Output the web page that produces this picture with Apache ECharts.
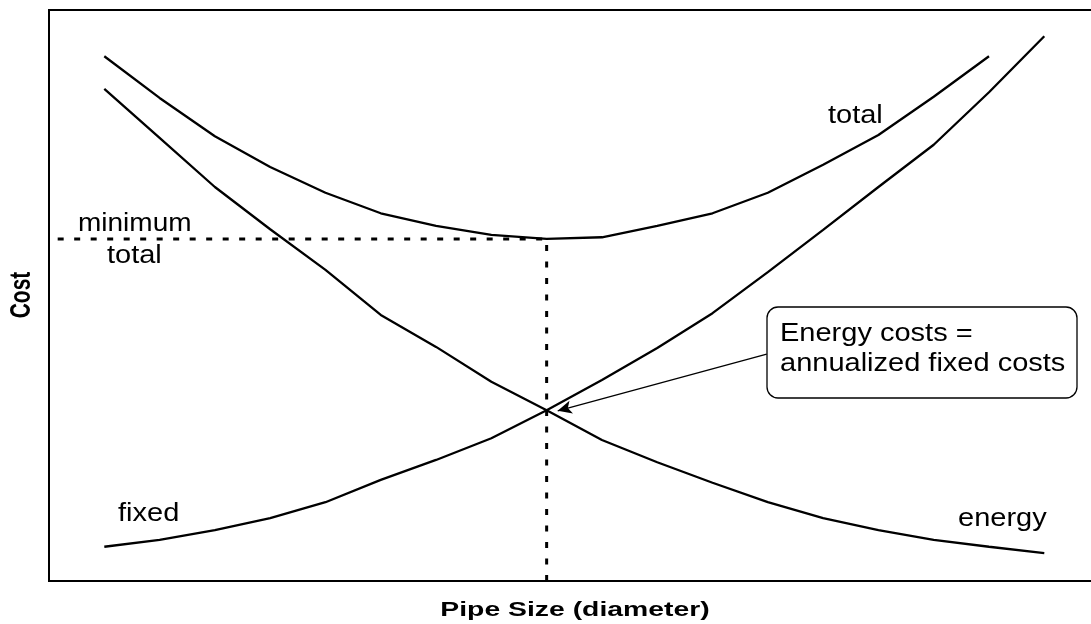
<!DOCTYPE html>
<html>
<head>
<meta charset="utf-8">
<script src="https://cdn.jsdelivr.net/npm/echarts@6/dist/echarts.min.js"></script>
<style>
  html, body { margin: 0; padding: 0; background: #fff; overflow: hidden; }
  /* wider than the window: the plot box's right edge falls outside the picture */
  #chart { width: 1130px; height: 624px; }
</style>
</head>
<body>
<div id="chart"></div>
<script>
// pipe size steps (x) and cost curves (y, 0..100 scale)
const pipeSize = [1, 2, 3, 4, 5, 6, 7, 8, 9, 10, 11, 12, 13, 14, 15, 16, 17, 18];
const fixedCost = [6.0, 7.2, 8.9, 11.0, 13.8, 17.7, 21.2, 25.0, 29.9, 35.2, 40.8, 46.9, 54.1, 61.5, 69.0, 76.4, 85.6, 95.4];
const energyCost = [86.2, 77.6, 69.0, 61.6, 54.5, 46.6, 41.0, 34.9, 29.9, 24.7, 20.8, 17.2, 13.8, 11.0, 8.9, 7.2, 6.0, 4.9];
const totalCost = [91.9, 84.6, 77.9, 72.5, 68.0, 64.4, 62.2, 60.6, 59.9, 60.2, 62.2, 64.4, 68.0, 72.9, 78.1, 84.8, 91.9];

// annotation arrow: from the note box to the crossing point
const arrowFrom = [12.98, 39.75];
const arrowTo = [9.2, 29.8];

const FONT = '"Liberation Sans", Arial, sans-serif';

function pairs(xs, ys) {
  return ys.map((y, i) => [xs[i], y]);
}

// minimum of the total curve -> dashed guide lines
let minIdx = 0;
totalCost.forEach((v, i) => { if (v < totalCost[minIdx]) minIdx = i; });
const minX = pipeSize[minIdx];
const minY = totalCost[minIdx];
const guide = [[minX, 0], [minX, minY], [0, minY]];

function label(text, x, y, size, sx, opts) {
  return Object.assign({
    type: 'text',
    x: x,
    y: y,
    scaleX: sx,
    z: 20,
    style: {
      text: text,
      font: size + 'px ' + FONT,
      fill: '#000',
      align: 'left',
      verticalAlign: 'middle',
      textAlign: 'left',
      textVerticalAlign: 'middle'
    }
  }, opts || {});
}

const chart = echarts.init(document.getElementById('chart'));

const curveStyle = { color: '#000', width: 2.3 };

const option = {
  animation: false,
  backgroundColor: '#fff',
  grid: {
    left: 49,
    right: 0,
    top: 10,
    bottom: 43,
    show: true,
    borderColor: '#000',
    borderWidth: 2,
    backgroundColor: 'transparent'
  },
  xAxis: {
    type: 'value',
    min: 0,
    max: 19.55,
    axisLine: { show: false },
    axisTick: { show: false },
    axisLabel: { show: false },
    splitLine: { show: false }
  },
  yAxis: {
    type: 'value',
    min: 0,
    max: 100,
    axisLine: { show: false },
    axisTick: { show: false },
    axisLabel: { show: false },
    splitLine: { show: false }
  },
  series: [
    {
      name: 'guide',
      type: 'line',
      data: guide,
      showSymbol: false,
      silent: true,
      lineStyle: { color: '#000', width: 3, type: [6, 10.5] }
    },
    {
      name: 'total',
      type: 'line',
      data: pairs(pipeSize, totalCost),
      showSymbol: false,
      lineStyle: curveStyle
    },
    {
      name: 'fixed',
      type: 'line',
      data: pairs(pipeSize, fixedCost),
      showSymbol: false,
      lineStyle: curveStyle
    },
    {
      name: 'energy',
      type: 'line',
      data: pairs(pipeSize, energyCost),
      showSymbol: false,
      lineStyle: curveStyle,
      markLine: {
        silent: true,
        symbol: ['none', 'arrow'],
        symbolSize: [10, 14],
        label: { show: false },
        lineStyle: { color: '#000', width: 1.3, type: 'solid' },
        itemStyle: { color: '#000' },
        data: [[{ coord: arrowFrom }, { coord: arrowTo }]]
      }
    }
  ],
  graphic: [
    {
      type: 'rect',
      z: 15,
      shape: { x: 767, y: 307, width: 310, height: 91, r: 11 },
      style: { fill: '#fff', stroke: '#000', lineWidth: 1.3 }
    },
    label('Energy costs =', 780, 334, 25, 1.16),
    label('annualized fixed costs', 780, 364, 25, 1.16),
    label('minimum', 78, 224, 25, 1.12),
    label('total', 107, 256, 25, 1.16),
    label('total', 828, 116, 25, 1.16),
    label('fixed', 118, 514, 25, 1.16),
    label('energy', 958, 519, 25, 1.16),
    {
      type: 'text',
      x: 575,
      y: 610,
      scaleX: 1.35,
      z: 20,
      style: {
        text: 'Pipe Size (diameter)',
        font: 'bold 21px ' + FONT,
        fill: '#000',
        align: 'center',
        verticalAlign: 'middle',
        textAlign: 'center',
        textVerticalAlign: 'middle'
      }
    },
    {
      type: 'text',
      x: 22,
      y: 295,
      rotation: Math.PI / 2,
      scaleY: 1.37,
      z: 20,
      style: {
        text: 'Cost',
        font: 'bold 21px ' + FONT,
        fill: '#000',
        align: 'center',
        verticalAlign: 'middle',
        textAlign: 'center',
        textVerticalAlign: 'middle'
      }
    }
  ]
};

chart.setOption(option);
</script>
</body>
</html>
